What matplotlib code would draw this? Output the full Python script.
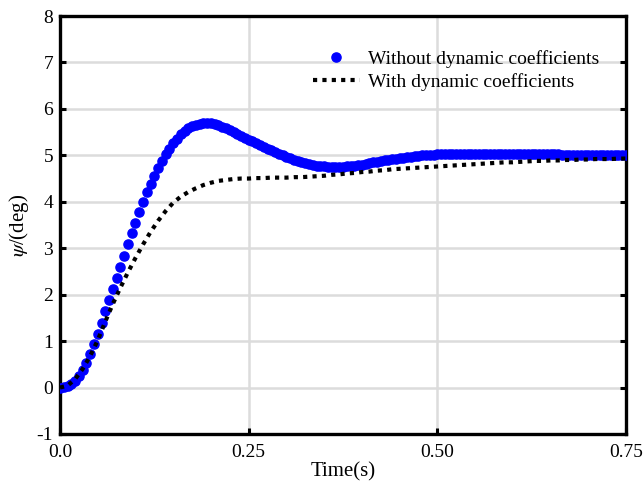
import numpy as np
import matplotlib
matplotlib.use('Agg')
import matplotlib.pyplot as plt
from matplotlib.ticker import FixedLocator, FixedFormatter

plt.rcParams['font.family'] = ['Liberation Serif', 'DejaVu Serif']
plt.rcParams['mathtext.fontset'] = 'stix'
plt.rcParams['axes.unicode_minus'] = False

# yaw response, sampled every 5 ms (without dynamic coefficients)
t_without = np.arange(151) * 0.005
psi_without = [
    0.00, 0.01, 0.03, 0.07, 0.14, 0.24, 0.37, 0.53, 0.72, 0.94,
    1.16, 1.40, 1.65, 1.89, 2.12, 2.35, 2.59, 2.84, 3.08, 3.32,
    3.55, 3.78, 4.00, 4.20, 4.38, 4.55, 4.72, 4.88, 5.02, 5.14,
    5.26, 5.36, 5.45, 5.52, 5.58, 5.63, 5.66, 5.68, 5.69, 5.69,
    5.69, 5.67, 5.65, 5.62, 5.59, 5.55, 5.51, 5.47, 5.42, 5.38,
    5.34, 5.30, 5.26, 5.22, 5.18, 5.14, 5.11, 5.07, 5.03, 5.00,
    4.97, 4.94, 4.91, 4.88, 4.85, 4.83, 4.81, 4.79, 4.78, 4.77,
    4.76, 4.75, 4.75, 4.75, 4.75, 4.75, 4.76, 4.77, 4.78, 4.79,
    4.80, 4.82, 4.83, 4.85, 4.86, 4.88, 4.89, 4.91, 4.92, 4.93,
    4.94, 4.95, 4.96, 4.97, 4.98, 4.99, 5.00, 5.00, 5.01, 5.01,
    5.02, 5.02, 5.02, 5.02, 5.02, 5.03, 5.03, 5.03, 5.03, 5.03,
    5.03, 5.03, 5.03, 5.03, 5.03, 5.03, 5.03, 5.03, 5.03, 5.03,
    5.03, 5.03, 5.03, 5.03, 5.03, 5.02, 5.02, 5.02, 5.02, 5.02,
    5.02, 5.02, 5.02, 5.01, 5.01, 5.01, 5.01, 5.01, 5.01, 5.01,
    5.01, 5.00, 5.00, 5.00, 5.00, 5.00, 5.00, 5.00, 5.00, 5.00,
    5.00,
]

# yaw response every 10 ms (with dynamic coefficients)
t_with = np.arange(76) * 0.01
psi_with = [
    0.00, 0.04, 0.18, 0.40, 0.68, 1.02, 1.42, 1.80, 2.15, 2.48,
    2.79, 3.08, 3.35, 3.59, 3.80, 3.98, 4.11, 4.21, 4.29, 4.36,
    4.41, 4.45, 4.47, 4.49, 4.50, 4.50, 4.51, 4.51, 4.52, 4.52,
    4.52, 4.53, 4.53, 4.54, 4.55, 4.56, 4.58, 4.59, 4.61, 4.62,
    4.64, 4.65, 4.67, 4.68, 4.70, 4.71, 4.72, 4.73, 4.74, 4.75,
    4.76, 4.77, 4.78, 4.79, 4.80, 4.81, 4.82, 4.83, 4.84, 4.85,
    4.85, 4.86, 4.87, 4.88, 4.88, 4.89, 4.89, 4.90, 4.90, 4.91,
    4.91, 4.92, 4.92, 4.92, 4.93, 4.93,
]

x_ticks = [0.0, 0.25, 0.50, 0.75]
x_tick_labels = ['0.0', '0.25', '0.50', '0.75']
y_ticks = [-1, 0, 1, 2, 3, 4, 5, 6, 7, 8]

fig = plt.figure(figsize=(6.43, 4.88), dpi=100)
ax = fig.add_axes([0.0933, 0.1107, 0.8803, 0.8565])

ax.plot(t_without, psi_without, linestyle='none', marker='o', markersize=6.6,
        color='#0000ff', label='Without dynamic coefficients', zorder=3)
ax.plot(t_with, psi_with, linestyle=(0, (1, 1.25)), linewidth=3,
        color='black', label='With dynamic coefficients', zorder=4)

ax.set_xlim(0, 0.75)
ax.set_ylim(-1, 8)
ax.xaxis.set_major_locator(FixedLocator(x_ticks))
ax.xaxis.set_major_formatter(FixedFormatter(x_tick_labels))
ax.set_yticks(y_ticks)

ax.grid(True, color='#dcdcdc', linewidth=1.8)
ax.set_axisbelow(True)
for s in ax.spines.values():
    s.set_linewidth(2.4)
ax.tick_params(direction='in', length=4, width=2.2, labelsize=14,
               right=True, top=False, pad=5)
ax.tick_params(axis='x', pad=7)

ax.set_xlabel('Time(s)', fontsize=15, labelpad=1)
ax.set_ylabel(r'$\psi$/(deg)', fontsize=15, labelpad=4)

ax.legend(loc='upper left', bbox_to_anchor=(0.447, 0.918), frameon=False,
          fontsize=14, handlelength=2.4, handletextpad=0.45,
          labelspacing=0.25, borderpad=0, borderaxespad=0)

fig.savefig('out.png', dpi=100)
